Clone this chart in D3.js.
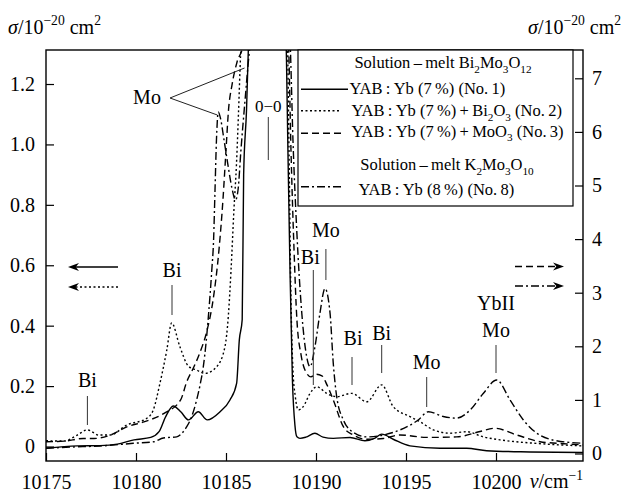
<!DOCTYPE html>
<html lang="en">
<head>
<meta charset="UTF-8">
<title>Yb absorption</title>
<script src="https://d3js.org/d3.v7.min.js"></script>
<style>
    html, body { margin: 0; padding: 0; background: #fff; }
</style>
</head>
<body>
<div id="chart"></div>
<script>
// No.1 (solid) and No.2 (dotted) -> left axis, No.3 (dashed) and No.8 (dash-dot) -> right axis
// points above the frame around 10187 are the 0-0 line, clipped away
const nu1 = [10175.0, 10176.74, 10178.0, 10178.96, 10179.89, 10180.82, 10181.28, 10181.65, 10182.07, 10182.5,
    10182.91, 10183.46, 10183.96, 10184.67, 10185.22, 10185.59, 10185.74, 10185.9, 10185.98, 10186.14, 10186.24,
    10186.5, 10187.3, 10188.2, 10188.36, 10188.44, 10188.56, 10188.69, 10188.83, 10188.94, 10189.11, 10189.44,
    10189.94, 10190.39, 10190.96, 10191.89, 10192.72, 10193.28, 10193.65, 10194.29, 10195.22, 10196.89, 10198.37,
    10199.48, 10201.89, 10204.83];
const sig1 = [-0.006, 0.002, 0.003, 0.008, 0.022, 0.030, 0.049, 0.099, 0.134, 0.114,
    0.088, 0.115, 0.088, 0.115, 0.154, 0.209, 0.353, 0.42, 0.90, 1.114, 1.313,
    1.6, 3.0, 1.6, 1.28, 0.98, 0.57, 0.22, 0.07, 0.032, 0.027, 0.031,
    0.044, 0.031, 0.027, 0.030, 0.019, 0.028, 0.041, 0.024, 0.002, -0.006, -0.006,
    -0.014, -0.018, -0.020];

const nu2 = [10175.0, 10176.0, 10176.74, 10177.29, 10177.94, 10178.56, 10179.48, 10180.59, 10180.96, 10181.33,
    10181.71, 10181.98, 10182.44, 10182.91, 10183.37, 10183.83, 10184.48, 10184.94, 10185.13, 10185.28,
    10185.44, 10185.58, 10185.69, 10185.81, 10186.0, 10187.3, 10188.3, 10188.42, 10188.5, 10188.61, 10188.72,
    10188.85, 10189.02, 10189.29, 10189.67, 10190.04, 10190.59, 10191.15, 10191.98, 10192.82, 10193.65,
    10194.29, 10195.22, 10195.78, 10196.52, 10197.44, 10198.37, 10199.29, 10200.22, 10202.07, 10204.83];
const sig2 = [0.019, 0.018, 0.038, 0.055, 0.038, 0.038, 0.071, 0.093, 0.121, 0.209,
    0.319, 0.409, 0.330, 0.266, 0.253, 0.242, 0.264, 0.330, 0.432, 0.584,
    0.783, 0.932, 1.097, 1.296, 1.5, 3.0, 1.6, 1.346, 0.98, 0.485, 0.253,
    0.165, 0.121, 0.132, 0.176, 0.198, 0.176, 0.165, 0.176, 0.148, 0.204,
    0.132, 0.099, 0.082, 0.055, 0.044, 0.049, 0.032, 0.022, 0.011, 0.002];

const nu3 = [10175.0, 10176.0, 10177.07, 10177.67, 10178.59, 10179.52, 10180.44, 10181.56, 10182.48, 10182.82,
    10183.18, 10183.56, 10183.95, 10184.28, 10184.61, 10184.83, 10185.0, 10185.14, 10185.33, 10185.61, 10185.94,
    10186.3, 10187.3, 10188.3, 10188.47, 10188.61, 10188.78, 10188.94, 10189.17, 10189.44, 10189.72, 10190.0,
    10190.33, 10190.61, 10190.96, 10191.52, 10192.07, 10192.82, 10193.74, 10194.67, 10196.15, 10197.82,
    10199.11, 10199.94, 10201.15, 10202.44, 10203.93, 10204.83];
const sig3 = [0.22, 0.23, 0.28, 0.28, 0.345, 0.50, 0.59, 0.75, 1.0, 1.34,
    1.59, 1.89, 2.3, 2.86, 3.8, 4.73, 5.66, 6.41, 6.87, 7.3, 7.6,
    8.5, 20, 8.5, 7.71, 5.66, 3.8, 2.49, 1.84, 1.52, 1.43, 1.48,
    1.45, 1.28, 1.0, 0.5, 0.345, 0.265, 0.28, 0.345, 0.30, 0.31,
    0.41, 0.47, 0.345, 0.22, 0.18, 0.16];

const nu8 = [10175.0, 10176.33, 10178.0, 10179.85, 10181.0, 10181.52, 10182.26, 10182.56, 10182.82, 10183.06,
    10183.37, 10183.56, 10183.74, 10183.89, 10184.02, 10184.21, 10184.31, 10184.39, 10184.47, 10184.57,
    10184.69, 10184.89, 10185.11, 10185.33, 10185.53, 10185.67, 10185.83, 10186.06, 10186.28, 10186.44,
    10187.3, 10188.4, 10188.56, 10188.72, 10188.93, 10189.21, 10189.48, 10189.67, 10189.94, 10190.22, 10190.5,
    10190.78, 10190.96, 10191.15, 10191.52, 10191.89, 10192.82, 10193.74, 10194.67, 10195.68, 10196.24,
    10197.07, 10197.82, 10198.56, 10199.29, 10200.04, 10200.78, 10201.52, 10202.26, 10203.18, 10204.83];
const sig8 = [0.097, 0.12, 0.14, 0.19, 0.22, 0.29, 0.31, 0.38, 0.50, 0.66,
    1.0, 1.28, 1.62, 2.06, 2.55, 3.42, 3.98, 4.92, 5.85, 6.37,
    6.26, 5.85, 5.38, 4.95, 4.73, 4.92, 5.66, 6.6, 7.44, 7.9,
    20, 8.5, 7.71, 5.85, 4.17, 2.62, 1.81, 1.62, 1.99, 2.62, 3.08,
    2.62, 1.68, 1.06, 0.625, 0.44, 0.31, 0.345, 0.44, 0.625, 0.78,
    0.69, 0.66, 0.81, 1.12, 1.37, 1.0, 0.625, 0.38, 0.25, 0.19];

const xTicks = [10175, 10180, 10185, 10190, 10195, 10200];
const leftTicks = [0, 0.2, 0.4, 0.6, 0.8, 1.0, 1.2];
const rightTicks = [0, 1, 2, 3, 4, 5, 6, 7];

// peak assignments: label lines and the wavenumber they point at
const peakLabels = [
    {lines: ['Bi'], nu: 10177.3, base: 387, y1: 396, y2: 425},
    {lines: ['Bi'], nu: 10182.0, base: 277, y1: 285, y2: 315},
    {lines: ['Bi'], nu: 10189.85, base: 263.5, y1: 270, y2: 385, dx: -3},
    {lines: ['Mo'], nu: 10190.55, base: 237, y1: 249, y2: 280},
    {lines: ['Bi'], nu: 10192.0, base: 345, y1: 357, y2: 385, dx: 1},
    {lines: ['Bi'], nu: 10193.65, base: 339.5, y1: 345, y2: 373},
    {lines: ['Mo'], nu: 10196.15, base: 368.5, y1: 377, y2: 407},
    {lines: ['YbII', 'Mo'], nu: 10200.0, base: 310, y1: 345, y2: 373}
];

const FONT = "'Liberation Serif'";
const W = 623, H = 496;
const margin = {top: 50, right: 40, bottom: 35, left: 46};
const w = W - margin.left - margin.right;
const h = H - margin.top - margin.bottom;

const x = d3.scaleLinear().domain([10175, 10175 + w / 18]).range([0, w]);
const yL = d3.scaleLinear().domain([-0.048, 1.3126]).range([h, 0]);
const yR = d3.scaleLinear().domain([-0.14, 7.528]).range([h, 0]);

const svg = d3.select('#chart').append('svg')
    .attr('width', W).attr('height', H)
    .style('font-family', FONT);

// text with _{sub}, ^{sup} and *{italic}
const richText = (sel, str, size) => {
    const parts = str.split(/(_\{[^}]*\}|\^\{[^}]*\}|\*\{[^}]*\})/).filter(s => s.length);
    let shift = 0;
    parts.forEach(p => {
        const t = sel.append('tspan');
        if (p[0] === '_' || p[0] === '^') {
            const d = p[0] === '_' ? size * 0.28 : -size * 0.42;
            t.attr('dy', d - shift).attr('font-size', size * 0.68).text(p.slice(2, -1));
            shift = d;
        } else if (p[0] === '*') {
            t.attr('dy', -shift).attr('font-style', 'italic').text(p.slice(2, -1));
            shift = 0;
        } else {
            t.attr('dy', -shift).text(p);
            shift = 0;
        }
    });
};

svg.append('defs').append('clipPath').attr('id', 'clip')
    .append('rect').attr('width', w).attr('height', h);

const g = svg.append('g').attr('transform', `translate(${margin.left},${margin.top})`);

// axes, ticks pointing inward
const fmt = d => d === 0 ? '0' : d.toFixed(1);
const gx = g.append('g').attr('transform', `translate(0,${h})`)
    .call(d3.axisBottom(x).tickValues(xTicks).tickFormat(d3.format('d')).tickSize(-8).tickSizeOuter(0).tickPadding(14));
const gl = g.append('g')
    .call(d3.axisLeft(yL).tickValues(leftTicks).tickFormat(fmt).tickSize(-8).tickSizeOuter(0).tickPadding(11));
const gr = g.append('g').attr('transform', `translate(${w},0)`)
    .call(d3.axisRight(yR).tickValues(rightTicks).tickSize(-8).tickSizeOuter(0).tickPadding(9));
[gx, gl, gr].forEach(a => {
    a.attr('font-size', 20);
    a.selectAll('.domain').remove();
    a.selectAll('line').attr('stroke', '#000').attr('stroke-width', 1.2);
    a.selectAll('text').attr('fill', '#000');
});
g.append('rect').attr('width', w).attr('height', h)
    .attr('fill', 'none').attr('stroke', '#000').attr('stroke-width', 1.4);

// spectra
const series = [
    {nu: nu1, s: sig1, y: yL, dash: null},
    {nu: nu2, s: sig2, y: yL, dash: '2,2.5'},
    {nu: nu3, s: sig3, y: yR, dash: '7,4'},
    {nu: nu8, s: sig8, y: yR, dash: '8,3,2,3'}
];
const plot = g.append('g').attr('clip-path', 'url(#clip)');
series.forEach(sr => {
    const line = d3.line().curve(d3.curveMonotoneX)
        .x(d => x(d[0])).y(d => sr.y(d[1]));
    plot.append('path')
        .datum(d3.zip(sr.nu, sr.s))
        .attr('fill', 'none').attr('stroke', '#000').attr('stroke-width', 1.4)
        .attr('stroke-dasharray', sr.dash)
        .attr('d', line);
});

// peak labels (y values below are page coordinates)
const lab = g.append('g').attr('transform', `translate(0,${-margin.top})`);
peakLabels.forEach(p => {
    const px = x(p.nu);
    p.lines.forEach((t, i) => {
        lab.append('text').attr('x', px + (p.dx || 0)).attr('y', p.base + i * 27)
            .attr('text-anchor', 'middle').attr('font-size', 20).text(t);
    });
    lab.append('line').attr('x1', px).attr('x2', px)
        .attr('y1', p.y1).attr('y2', p.y2)
        .attr('stroke', '#333').attr('stroke-width', 1);
});
// two Mo pointers into the central region
lab.append('text').attr('x', 147 - margin.left).attr('y', 104).attr('text-anchor', 'middle')
    .attr('font-size', 20).text('Mo');
lab.append('path')
    .attr('d', `M${x(10186.03)},68L${170 - margin.left},98L${x(10184.52)},115`)
    .attr('fill', 'none').attr('stroke', '#222').attr('stroke-width', 1);
lab.append('text').attr('x', x(10187.35)).attr('y', 112).attr('text-anchor', 'middle')
    .attr('font-size', 17).text('0\u22120');
lab.append('line').attr('x1', x(10187.35)).attr('x2', x(10187.35))
    .attr('y1', 117).attr('y2', 160).attr('stroke', '#333').attr('stroke-width', 1);

// axis arrows telling which scale a curve uses
const arrowHead = (x0, y0, dir) => {
    const l = 11 * dir, hw = 4;
    return `M${x0},${y0}L${x0 + l},${y0 - hw}L${x0 + l * 0.7},${y0}L${x0 + l},${y0 + hw}Z`;
};
const arrows = [
    {x1: 118, x2: 68, y: 267, dash: null},
    {x1: 118, x2: 68, y: 287, dash: '2,2.5'},
    {x1: 515, x2: 564, y: 266.5, dash: '7,4'},
    {x1: 515, x2: 564, y: 286, dash: '8,3,2,3'}
];
arrows.forEach(a => {
    const dir = a.x2 < a.x1 ? 1 : -1;
    svg.append('line').attr('x1', a.x1).attr('x2', a.x2 + dir * 6).attr('y1', a.y).attr('y2', a.y)
        .attr('stroke', '#000').attr('stroke-width', 1.4).attr('stroke-dasharray', a.dash);
    svg.append('path').attr('d', arrowHead(a.x2, a.y, dir)).attr('fill', '#000');
});

// legend
const lg = svg.append('g');
lg.append('rect').attr('x', 298).attr('y', 50).attr('width', 275).attr('height', 156)
    .attr('fill', '#fff').attr('stroke', '#000').attr('stroke-width', 1.2);
const legendHeads = [
    {t: 'Solution\u2009\u2013\u2009melt Bi_{2}Mo_{3}O_{12}', x: 443, y: 68},
    {t: 'Solution\u2009\u2013\u2009melt K_{2}Mo_{3}O_{10}', x: 447, y: 170}
];
legendHeads.forEach(d => {
    const t = lg.append('text').attr('x', d.x).attr('y', d.y).attr('text-anchor', 'middle').attr('font-size', 16.5);
    richText(t, d.t, 16.5);
});
const legendRows = [
    {t: 'YAB\u2009:\u2009Yb (7\u2009%) (No.\u20091)', dash: null, ly: 89.3, lx2: 348, tx: 349.5, ty: 93.5},
    {t: 'YAB\u2009:\u2009Yb (7\u2009%)\u2009+\u2009Bi_{2}O_{3} (No.\u20092)', dash: '2,2.5', ly: 110.7, lx2: 341, tx: 351.5, ty: 116},
    {t: 'YAB\u2009:\u2009Yb (7\u2009%)\u2009+\u2009MoO_{3} (No.\u20093)', dash: '7,4', ly: 133.3, lx2: 341, tx: 351.5, ty: 136.5},
    {t: 'YAB\u2009:\u2009Yb (8\u2009%) (No.\u20098)', dash: '8,3,2,3', ly: 186.7, lx2: 343, tx: 358.5, ty: 195}
];
legendRows.forEach(d => {
    lg.append('line').attr('x1', 301).attr('x2', d.lx2).attr('y1', d.ly).attr('y2', d.ly)
        .attr('stroke', '#000').attr('stroke-width', 1.4).attr('stroke-dasharray', d.dash);
    const t = lg.append('text').attr('x', d.tx).attr('y', d.ty).attr('font-size', 16.5);
    richText(t, d.t, 16.5);
});

// axis titles
const tl = svg.append('text').attr('x', 8).attr('y', 33.5).attr('font-size', 20);
richText(tl, '*{\u03c3}/10^{\u221220} cm^{2}', 20);
const tr = svg.append('text').attr('x', 621).attr('y', 33.5).attr('font-size', 20).attr('text-anchor', 'end');
richText(tr, '*{\u03c3}/10^{\u221220} cm^{2}', 20);
const tb = svg.append('text').attr('x', 583).attr('y', 488).attr('font-size', 20).attr('text-anchor', 'end');
richText(tb, '*{\u03bd}/cm^{\u22121}', 20);

// every text in the serif face (axis groups carry their own font attribute)
svg.selectAll('text').style('font-family', FONT);
</script>
</body>
</html>
